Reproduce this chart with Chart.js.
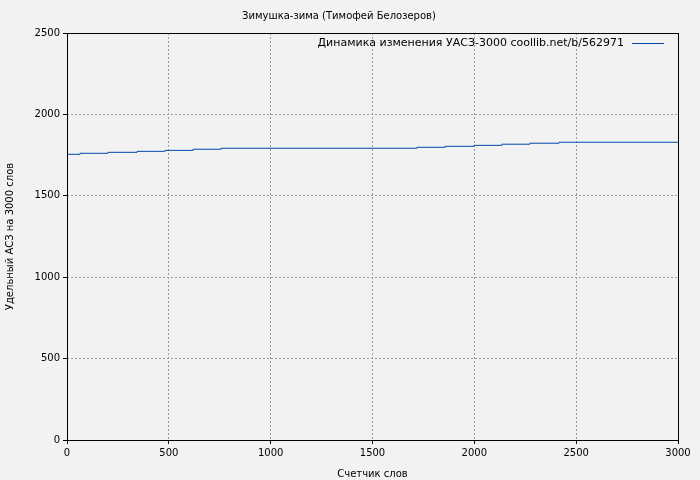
<!DOCTYPE html>
<html><head><meta charset="utf-8">
<script src="https://cdn.jsdelivr.net/npm/chart.js@4"></script>
<style>html,body{margin:0;background:#f2f2f2}#w{width:700px;height:480px}</style>
</head><body><div id="w"><canvas id="c"></canvas></div>
<script>
const xs=[0,64,201,344,481,619,756,1718,1856,1998,2136,2273,2416,3000];
const ys=[1755,1761,1767,1773,1779,1786,1792,1798,1804,1810,1817,1823,1829,1829];
const xTicks=[0,500,1000,1500,2000,2500,3000];
const seriesLabel='Динамика изменения УАСЗ-3000 coollib.net/b/562971';
const bgPlugin={id:'bg',beforeDraw(c){const x=c.ctx;x.save();x.fillStyle='#f2f2f2';x.fillRect(0,0,c.width,c.height);x.restore();},
afterDraw(c){const a=c.chartArea,x=c.ctx;x.save();x.strokeStyle='#000';x.lineWidth=1;x.strokeRect(a.left+0.5,a.top+0.5,a.right-a.left,a.bottom-a.top);
x.font='11px "DejaVu Sans"';x.fillStyle='#000';x.textAlign='right';x.textBaseline='middle';
const ly=a.top+10;x.fillText(c.data.datasets[0].label,a.right-54,ly);
x.strokeStyle='#0047ab';x.beginPath();x.moveTo(a.right-46,ly+0.5);x.lineTo(a.right-14,ly+0.5);x.stroke();x.restore();}};
new Chart(document.getElementById('c'),{type:'line',
data:{datasets:[{label:seriesLabel,data:xs.map((v,i)=>({x:v,y:ys[i]})),stepped:true,borderColor:'#0047ab',borderWidth:1,pointRadius:0}]},
options:{responsive:true,maintainAspectRatio:false,animation:false,
layout:{padding:{left:0,right:22,top:0,bottom:0}},
plugins:{title:{display:true,text:'Зимушка-зима (Тимофей Белозеров)',color:'#000',font:{family:'DejaVu Sans',size:10,weight:'normal'},padding:{top:10,bottom:11}},
legend:{display:false},tooltip:{enabled:false}},
scales:{x:{type:'linear',min:0,max:3000,afterBuildTicks:s=>{s.ticks=xTicks.map(v=>({value:v}))},afterFit:s=>{s.height=40},
title:{display:true,text:'Счетчик слов',color:'#000',font:{family:'DejaVu Sans',size:10},padding:0},
grid:{color:'#999',tickColor:'#000',tickLength:4},border:{dash:[2,2],display:false},
ticks:{color:'#000',font:{family:'DejaVu Sans',size:10},maxRotation:0,callback:v=>String(v)}},
y:{min:0,max:2500,afterFit:s=>{s.width=67},ticks:{stepSize:500,color:'#000',font:{family:'DejaVu Sans',size:10},callback:v=>String(v)},
title:{display:true,text:'Удельный АСЗ на 3000 слов',color:'#000',font:{family:'DejaVu Sans',size:10}},
grid:{color:'#999',tickColor:'#000',tickLength:4},border:{dash:[2,2],display:false}}}},
plugins:[bgPlugin]});
</script></body></html>
